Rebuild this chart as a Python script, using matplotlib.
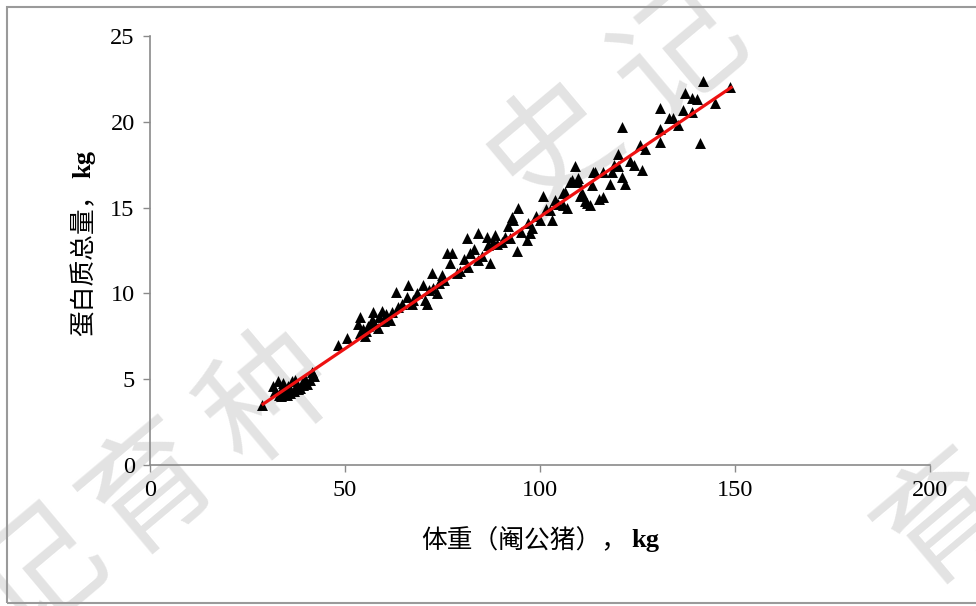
import matplotlib
matplotlib.use('Agg')
import matplotlib.pyplot as plt
from matplotlib.patches import Rectangle

# 体重 (kg) and 蛋白质总量 (kg)
body_weight = [
    28.7, 31.5, 32.0, 32.8, 33.2, 33.8, 34.0, 34.5, 35.0, 35.5, 35.9, 36.3, 36.8,
    37.2, 37.5, 38.0, 38.5, 39.0, 39.3, 39.8, 40.2, 41.0, 41.5, 42.0, 33.5, 36.0,
    48.2, 50.4, 53.4, 53.8, 53.8, 54.7, 55.1, 55.5, 56.0, 56.8, 57.2, 57.5, 58.5,
    58.8, 59.4, 60.0, 60.5, 61.5, 62.0, 63.2, 63.5, 64.6, 65.8, 66.1, 67.1, 67.5,
    68.5, 70.0, 70.5, 71.0, 71.5, 72.3, 72.5, 73.6, 74.0, 74.9, 75.5,
    76.2, 76.9, 77.4, 78.7, 79.5, 80.5, 81.3, 81.5, 82.0, 83.0, 84.1, 84.1, 85.0,
    86.4, 86.7, 87.2, 88.0, 88.5, 89.0, 90.3, 91.0, 91.8, 92.3, 92.8, 93.1, 94.1,
    94.4, 95.0, 96.7, 96.9, 97.4, 98.0, 99.0,
    100.0, 100.8, 101.5, 102.6, 103.0, 103.8, 104.5, 105.9, 105.9, 106.4, 107.0,
    107.7, 108.2, 109.0, 109.7, 109.7, 110.3, 110.8, 111.5, 112.0, 112.8, 113.3,
    113.6, 114.1, 115.0, 116.2, 116.2, 117.9, 118.5, 119.0,
    120.0, 120.0, 121.0, 121.0, 121.8, 123.0, 124.0, 125.6, 126.2, 130.8, 130.8,
    130.8, 133.0, 134.1, 135.4, 136.7, 137.2, 139.0, 139.0, 140.3, 141.0, 141.8,
    144.9, 148.7, 127.0,
]
protein = [
    3.5, 4.6, 4.3, 4.9, 4.1, 4.5, 4.8, 4.2, 4.1, 4.6, 4.4, 4.9, 4.3,
    4.95, 4.6, 4.4, 4.5, 4.8, 4.65, 5.0, 4.7, 4.95, 5.4, 5.2, 4.0, 4.2,
    7.0, 7.4, 8.2, 8.6, 7.7, 7.9, 7.5, 7.8, 8.1, 8.45, 8.9, 8.3, 8.0,
    8.6, 9.0, 8.4, 8.8, 8.45, 8.9, 10.1, 9.2, 9.4, 9.8, 10.5, 9.4, 9.6,
    10.0, 10.5, 9.6, 9.4, 10.2, 11.2, 10.3, 10.0, 10.6, 11.1, 10.8,
    12.35, 11.8, 12.35, 11.2, 11.3, 12.0, 13.2, 11.55, 12.35, 12.6, 13.5, 11.95, 12.2,
    13.3, 12.8, 11.8, 13.0, 13.4, 12.9, 13.0, 13.3, 13.9, 13.2, 14.45, 14.3, 12.5,
    15.0, 13.6, 13.1, 14.1, 13.5, 13.8, 14.5,
    14.3, 15.7, 14.9, 14.85, 14.3, 15.45, 15.2, 15.15, 15.85, 15.9, 15.0,
    16.5, 16.6, 17.4, 16.7, 16.5, 15.7, 15.85, 15.4, 15.25, 15.15, 16.3,
    17.1, 17.1, 15.5, 17.1, 15.6, 16.4, 17.1, 17.5,
    18.1, 17.4, 19.7, 16.8, 16.4, 17.7, 17.5, 18.65, 17.2, 20.8, 19.6,
    18.8, 20.2, 20.2, 19.8, 20.7, 21.7, 21.4, 20.6, 21.3, 18.75, 22.4,
    21.1, 22.0, 18.4,
]

# regression line end points
fit_x = [29, 149]
fit_y = [3.55, 22.0]

x_ticks = [0, 50, 100, 150, 200]
y_ticks = [0, 5, 10, 15, 20, 25]

watermark_chars = ['记', '育', '种', '史', '记', '育']
watermark_pos = [(40, 575), (150, 490), (270, 400), (555, 150), (680, 55), (945, 520)]

SERIF = 'Liberation Serif'
CJK = 'Noto Sans CJK SC'
W, H = 976, 606

fig = plt.figure(figsize=(9.76, 6.06), dpi=100)
fig.patch.set_facecolor('white')

# watermark behind the axes
for ch, (px, py) in zip(watermark_chars, watermark_pos):
    fig.text(px / W, 1 - py / H, ch, fontsize=92, family=CJK,
             color='#e3e3e3', rotation=40, ha='center', va='center', zorder=-5)

ax = fig.add_axes([150 / W, 1 - 465 / H, 780 / W, 429 / H])
ax.patch.set_alpha(0)

ax.scatter(body_weight, protein, marker='^', s=62, color='black', linewidths=0, zorder=3)
ax.plot(fit_x, fit_y, color='#ee1111', lw=2.3, zorder=4)

ax.set_xlim(0, 200)
ax.set_ylim(0, 25)
ax.set_xticks(x_ticks)
ax.set_yticks(y_ticks)
ax.set_xticklabels([str(t) for t in x_ticks], family=SERIF, fontsize=17.5)
ax.set_yticklabels([str(t) for t in y_ticks], family=SERIF, fontsize=17.5)
ax.tick_params(direction='out', length=5, width=1, color='#8a8a8a', pad=6)

for side in ['top', 'right']:
    ax.spines[side].set_visible(False)
for side in ['left', 'bottom']:
    ax.spines[side].set_color('#8a8a8a')
    ax.spines[side].set_linewidth(1.2)

# x label: Chinese part + bold kg
fig.text(627 / W, 1 - 541 / H, '体重（阉公猪），', family=CJK, fontsize=18.5,
         ha='right', va='center')
fig.text(631 / W, 1 - 541 / H, 'kg', family=SERIF, fontweight='bold', fontsize=19,
         ha='left', va='center')

# y label: rotated
fig.text(84 / W, 1 - 182 / H, '蛋白质总量，', family=CJK, fontsize=18.5,
         rotation=90, rotation_mode='anchor', ha='right', va='center')
fig.text(84 / W, 1 - 178 / H, 'kg', family=SERIF, fontweight='bold', fontsize=19,
         rotation=90, rotation_mode='anchor', ha='left', va='center')

# thin grey frame round the picture
fig.patches.append(Rectangle((7 / W, 3 / H), 1.0, 1 - 10 / H, transform=fig.transFigure,
                             fill=False, edgecolor='#9a9a9a', lw=1.5, zorder=10))

fig.savefig('out.png', dpi=100)
